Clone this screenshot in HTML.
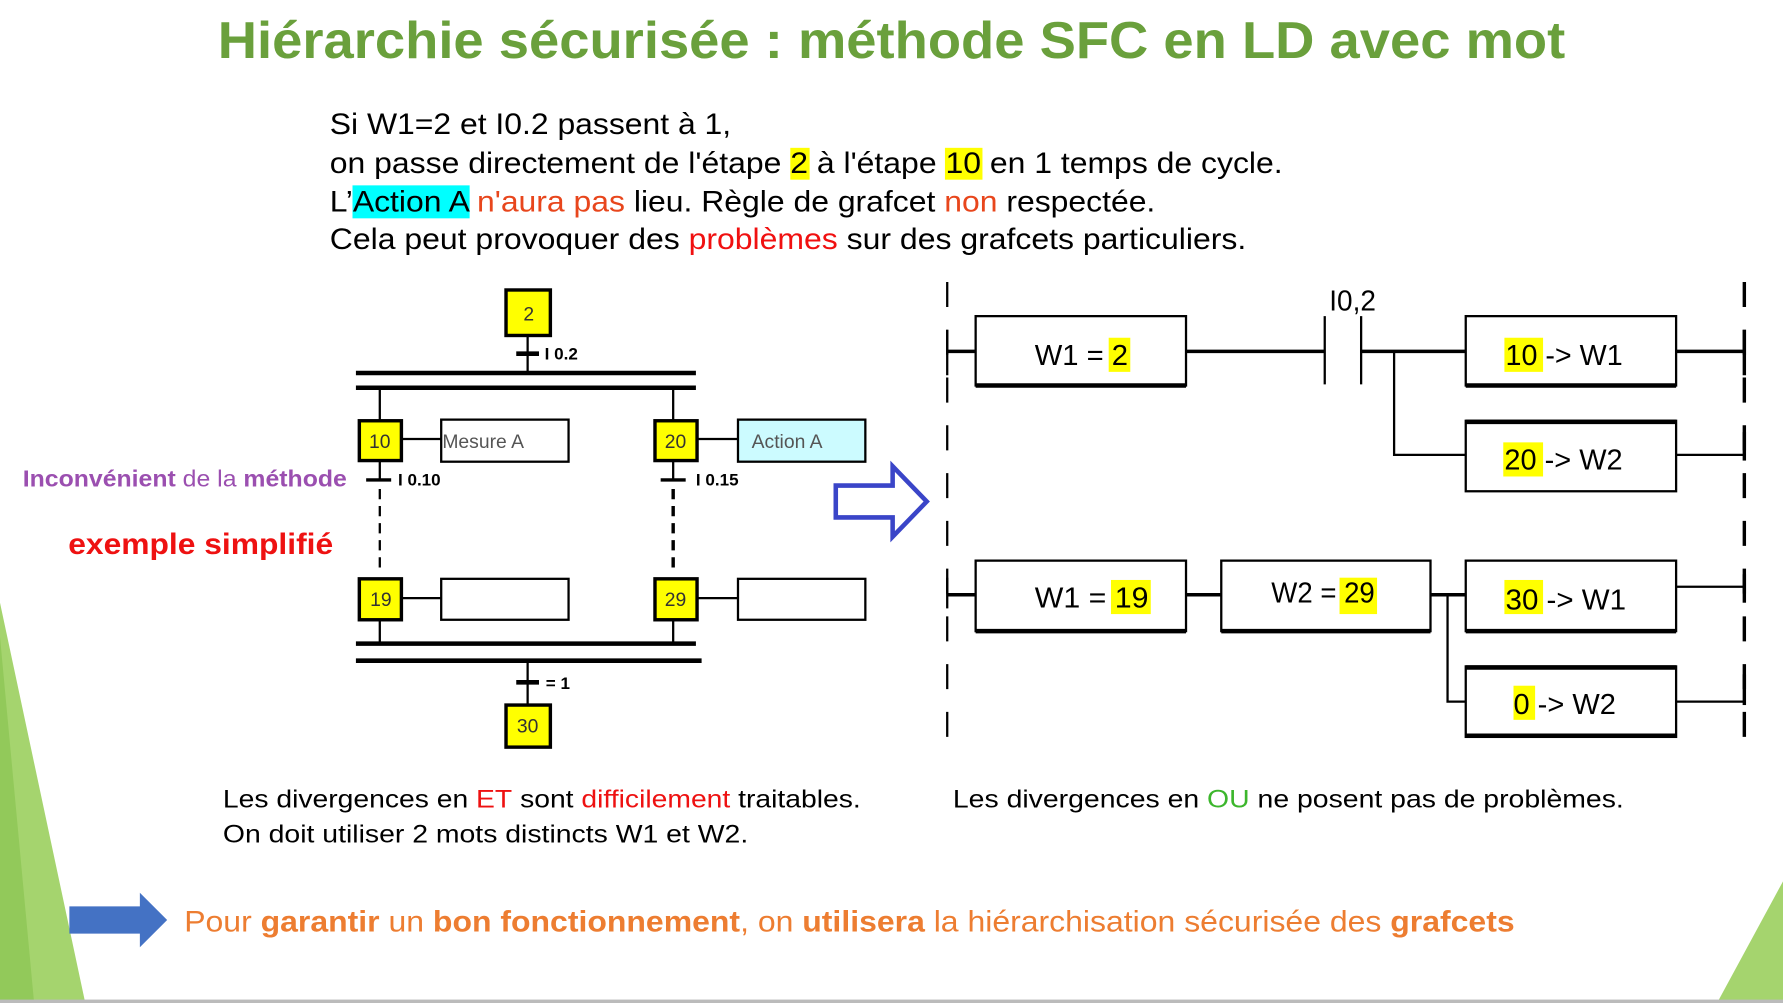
<!DOCTYPE html>
<html><head><meta charset="utf-8"><style>
html,body{margin:0;padding:0;background:#fff;overflow:hidden}
svg{display:block}
text{font-family:"Liberation Sans",Arial,sans-serif}
</style></head><body>
<svg width="1783" height="1003" viewBox="0 0 1568 882" preserveAspectRatio="none" xmlns="http://www.w3.org/2000/svg">
<rect width="1568" height="882" fill="#fff"/>
<polygon points="0,530 75,882 0,882" fill="#a5d46e"/>
<polygon points="0,560 30,882 0,882" fill="#92c95a"/>
<polygon points="1568,775 1568,882 1510,882" fill="#a5d46e"/>
<rect x="0" y="879" width="1568" height="3" fill="#bbb"/>

<text x="784" y="51" text-anchor="middle" font-size="46" font-weight="bold" fill="#6aa03c" textLength="1185" lengthAdjust="spacingAndGlyphs">Hiérarchie sécurisée : méthode SFC en LD avec mot</text>

<rect x="695" y="130" width="17" height="28" fill="#ffff00"/>
<rect x="831" y="130" width="33" height="28" fill="#ffff00"/>
<rect x="310" y="163" width="103" height="29" fill="#00ffff"/>
<g font-size="26" fill="#000">
<text x="290" y="118" textLength="353" lengthAdjust="spacingAndGlyphs">Si W1=2 et I0.2 passent à 1,</text>
<text x="290" y="152" textLength="838" lengthAdjust="spacingAndGlyphs">on passe directement de l'étape 2 à l'étape 10 en 1 temps de cycle.</text>
<text x="290" y="186" textLength="726" lengthAdjust="spacingAndGlyphs">L’Action A <tspan fill="#e8461c">n'aura</tspan> <tspan fill="#e8461c">pas</tspan> lieu. Règle de grafcet <tspan fill="#e8461c">non</tspan> respectée.</text>
<text x="290" y="219" textLength="806" lengthAdjust="spacingAndGlyphs">Cela peut provoquer des <tspan fill="#f01010">problèmes</tspan> sur des grafcets particuliers.</text>
</g>

<text x="20" y="428" font-size="20" font-weight="bold" fill="#9b4fb0" textLength="285" lengthAdjust="spacingAndGlyphs">Inconvénient <tspan font-weight="normal">de la</tspan> méthode</text>
<text x="60" y="487" font-size="26" font-weight="bold" fill="#ee1111" textLength="233" lengthAdjust="spacingAndGlyphs">exemple simplifié</text>

<!-- SFC -->
<g stroke="#000" fill="none">
<line x1="464" y1="295" x2="464" y2="328" stroke-width="2"/>
<line x1="454" y1="311" x2="474" y2="311" stroke-width="4"/>
<line x1="313" y1="328" x2="612" y2="328" stroke-width="4"/>
<line x1="313" y1="341" x2="612" y2="341" stroke-width="4"/>
<line x1="334" y1="341" x2="334" y2="370" stroke-width="2"/>
<line x1="592" y1="341" x2="592" y2="370" stroke-width="2"/>
<line x1="354" y1="386" x2="388" y2="386" stroke-width="2"/>
<line x1="613" y1="386" x2="649" y2="386" stroke-width="2"/>
<line x1="334" y1="405" x2="334" y2="422" stroke-width="2"/>
<line x1="592" y1="405" x2="592" y2="422" stroke-width="2"/>
<line x1="322" y1="422" x2="344" y2="422" stroke-width="3"/>
<line x1="581" y1="422" x2="603" y2="422" stroke-width="3"/>
<line x1="334" y1="430" x2="334" y2="500" stroke-width="2" stroke-dasharray="9,6"/>
<line x1="592" y1="430" x2="592" y2="500" stroke-width="3" stroke-dasharray="9,6"/>
<line x1="354" y1="526" x2="388" y2="526" stroke-width="2"/>
<line x1="613" y1="526" x2="649" y2="526" stroke-width="2"/>
<line x1="334" y1="545" x2="334" y2="566" stroke-width="2"/>
<line x1="592" y1="545" x2="592" y2="566" stroke-width="2"/>
<line x1="313" y1="566" x2="612" y2="566" stroke-width="4"/>
<line x1="313" y1="581" x2="617" y2="581" stroke-width="4"/>
<line x1="464" y1="581" x2="464" y2="620" stroke-width="2"/>
<line x1="454" y1="600" x2="474" y2="600" stroke-width="4"/>
<rect x="388" y="369" width="112" height="37" fill="#fff" stroke-width="2"/>
<rect x="649" y="369" width="112" height="37" fill="#ccfbff" stroke-width="2"/>
<rect x="388" y="509" width="112" height="36" fill="#fff" stroke-width="2"/>
<rect x="649" y="509" width="112" height="36" fill="#fff" stroke-width="2"/>
<g fill="#ffff00" stroke-width="3">
<rect x="445" y="255" width="39" height="40"/>
<rect x="316" y="370" width="37" height="35"/>
<rect x="576" y="370" width="37" height="35"/>
<rect x="316" y="509" width="37" height="36"/>
<rect x="576" y="509" width="37" height="36"/>
<rect x="445" y="620" width="39" height="37"/>
</g>
</g>
<g font-size="17" fill="#333" text-anchor="middle">
<text x="465" y="282">2</text>
<text x="334" y="394">10</text>
<text x="594" y="394">20</text>
<text x="335" y="533">19</text>
<text x="594" y="533">29</text>
<text x="464" y="644">30</text>
</g>
<g font-size="17" fill="#555">
<text x="389" y="394">Mesure A</text>
<text x="661" y="394">Action A</text>
</g>
<g font-size="15" font-weight="bold" fill="#000">
<text x="479" y="316">I 0.2</text>
<text x="350" y="427">I 0.10</text>
<text x="612" y="427">I 0.15</text>
<text x="480" y="606">= 1</text>
</g>

<polygon points="735,427 785,427 785,410 815,441 785,472 785,455 735,455" fill="#fff" stroke="#3a45c8" stroke-width="4"/>

<!-- Ladder -->
<g stroke="#000" fill="none">
<line x1="833" y1="248" x2="833" y2="660" stroke-width="2" stroke-dasharray="22,20"/>
<line x1="1534" y1="248" x2="1534" y2="660" stroke-width="3" stroke-dasharray="22,20"/>
<line x1="833" y1="290" x2="833" y2="330" stroke-width="2"/>
<line x1="1534" y1="290" x2="1534" y2="330" stroke-width="3"/>
<line x1="833" y1="508" x2="833" y2="535" stroke-width="2"/>
<line x1="1534" y1="505" x2="1534" y2="530" stroke-width="3"/>
<line x1="1534" y1="380" x2="1534" y2="405" stroke-width="3"/>
<line x1="1534" y1="593" x2="1534" y2="620" stroke-width="3"/>
<line x1="833" y1="309" x2="858" y2="309" stroke-width="3"/>
<line x1="1043" y1="309" x2="1165" y2="309" stroke-width="3"/>
<line x1="1165" y1="278" x2="1165" y2="338" stroke-width="2"/>
<line x1="1197" y1="278" x2="1197" y2="338" stroke-width="2"/>
<line x1="1197" y1="309" x2="1289" y2="309" stroke-width="3"/>
<line x1="1474" y1="309" x2="1534" y2="309" stroke-width="3"/>
<polyline points="1226,309 1226,400 1289,400" stroke-width="2"/>
<line x1="1474" y1="400" x2="1534" y2="400" stroke-width="2"/>
<line x1="833" y1="523" x2="858" y2="523" stroke-width="3"/>
<line x1="1043" y1="523" x2="1074" y2="523" stroke-width="3"/>
<line x1="1258" y1="523" x2="1289" y2="523" stroke-width="3"/>
<polyline points="1273,523 1273,617 1289,617" stroke-width="2"/>
<line x1="1474" y1="516" x2="1534" y2="516" stroke-width="2"/>
<line x1="1474" y1="617" x2="1534" y2="617" stroke-width="2"/>
<g stroke-width="2" fill="#fff">
<rect x="858" y="278" width="185" height="61"/>
<rect x="1289" y="278" width="185" height="61"/>
<rect x="1289" y="370" width="185" height="62"/>
<rect x="858" y="493" width="185" height="62"/>
<rect x="1074" y="493" width="184" height="62"/>
<rect x="1289" y="493" width="185" height="62"/>
<rect x="1289" y="586" width="185" height="62"/>
</g>
<g stroke-width="4">
<line x1="858" y1="339" x2="1043" y2="339"/>
<line x1="1289" y1="339" x2="1474" y2="339"/>
<line x1="1289" y1="371" x2="1474" y2="371"/>
<line x1="858" y1="555" x2="1043" y2="555"/>
<line x1="1074" y1="555" x2="1258" y2="555"/>
<line x1="1289" y1="555" x2="1474" y2="555"/>
<line x1="1289" y1="587" x2="1474" y2="587"/>
<line x1="1289" y1="647" x2="1474" y2="647"/>
</g>
</g>
<g fill="#ffff00">
<rect x="975" y="297" width="19" height="30"/>
<rect x="1323" y="297" width="34" height="30"/>
<rect x="1322" y="389" width="35" height="30"/>
<rect x="977" y="510" width="35" height="30"/>
<rect x="1178" y="508" width="33" height="32"/>
<rect x="1323" y="510" width="34" height="30"/>
<rect x="1331" y="603" width="19" height="30"/>
</g>
<g font-size="25" fill="#000">
<text x="910" y="321" textLength="82" lengthAdjust="spacingAndGlyphs">W1 = 2</text>
<text x="1324" y="321" textLength="103" lengthAdjust="spacingAndGlyphs">10 -&gt; W1</text>
<text x="1323" y="413" textLength="104" lengthAdjust="spacingAndGlyphs">20 -&gt; W2</text>
<text x="910" y="534" textLength="100" lengthAdjust="spacingAndGlyphs">W1 = 19</text>
<text x="1118" y="530" textLength="91" lengthAdjust="spacingAndGlyphs">W2 = 29</text>
<text x="1324" y="536" textLength="106" lengthAdjust="spacingAndGlyphs">30  -&gt; W1</text>
<text x="1331" y="628" textLength="90" lengthAdjust="spacingAndGlyphs">0 -&gt; W2</text>
<text x="1169" y="273" textLength="41" lengthAdjust="spacingAndGlyphs">I0,2</text>
</g>

<g font-size="22" fill="#000">
<text x="196" y="710" textLength="561" lengthAdjust="spacingAndGlyphs">Les divergences en <tspan fill="#ee1111">ET</tspan> sont <tspan fill="#ee1111">difficilement</tspan> traitables.</text>
<text x="196" y="741" textLength="462" lengthAdjust="spacingAndGlyphs">On doit utiliser 2 mots distincts W1 et W2.</text>
<text x="838" y="710" textLength="590" lengthAdjust="spacingAndGlyphs">Les divergences en <tspan fill="#3cb62c">OU</tspan> ne posent pas de problèmes.</text>
</g>

<polygon points="61,797 123,797 123,785 147,809 123,833 123,821 61,821" fill="#4472c4"/>
<text x="162" y="819" font-size="26" fill="#ed7d31" textLength="1170" lengthAdjust="spacingAndGlyphs">Pour <tspan font-weight="bold">garantir</tspan> un <tspan font-weight="bold">bon fonctionnement</tspan>, on <tspan font-weight="bold">utilisera</tspan> la hiérarchisation sécurisée des <tspan font-weight="bold">grafcets</tspan></text>
</svg>
</body></html>
